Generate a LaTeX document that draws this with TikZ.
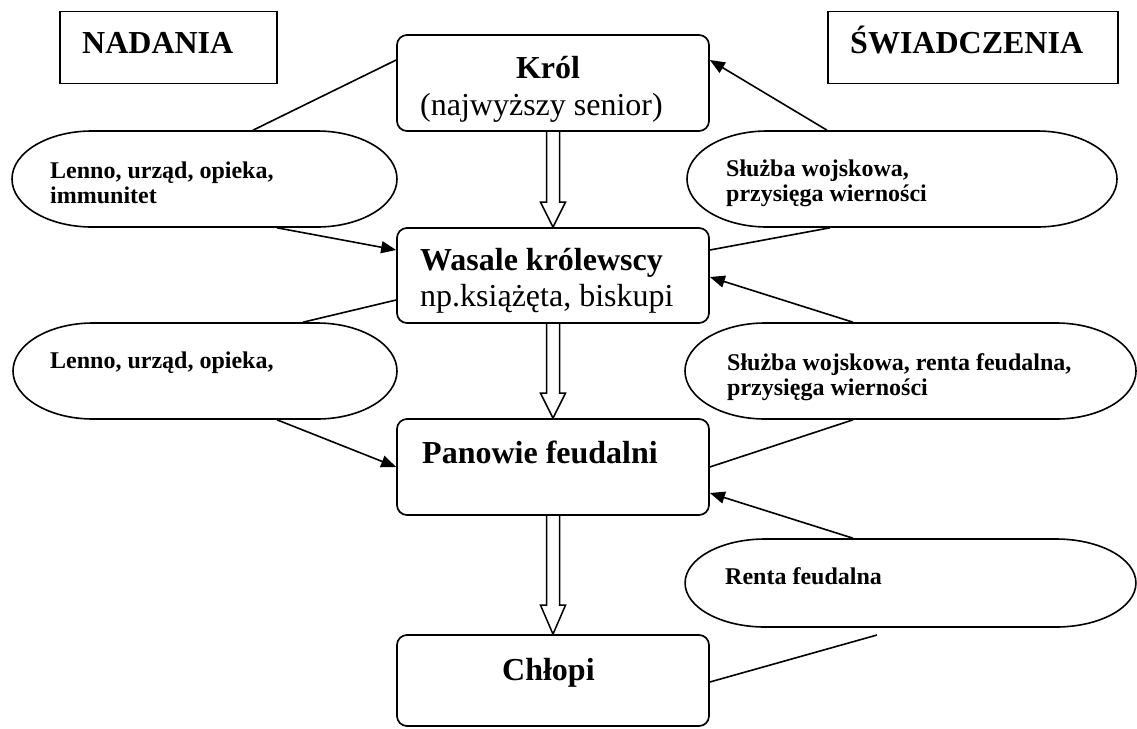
\documentclass[tikz,border=0pt]{standalone}
\usepackage{fontspec}
\setmainfont{Liberation Serif}
\usetikzlibrary{arrows.meta,shapes.misc}
\tikzset{
  rbox/.style={draw, line width=1.7pt, rounded corners=10pt, minimum width=312pt, inner sep=0pt},
  hbox/.style={draw, line width=1.6pt, inner sep=0pt},
  oval/.style={draw, line width=1.6pt, rounded rectangle, inner sep=0pt},
  conn/.style={line width=1.6pt},
  arr/.style={conn, -{Triangle[length=15pt,width=12pt]}},
  fat/.style={line width=1.5pt, line join=miter},
  big/.style={font=\fontsize{32}{38}\selectfont, inner sep=0pt, anchor=base west},
  bigb/.style={font=\fontsize{32}{38}\selectfont\bfseries, inner sep=0pt, anchor=base west},
  small/.style={font=\fontsize{24}{25}\selectfont\bfseries, inner sep=0pt, anchor=base west},
}
\newcommand\hollowarrow[3]{%
  \draw[fat] ([xshift=-6.5pt]#1.south) -- ([xshift=-6.5pt,yshift=#3]#2.north)
    -- ([xshift=-12.5pt,yshift=#3]#2.north) -- (#2.north)
    -- ([xshift=12.5pt,yshift=#3]#2.north) -- ([xshift=6.5pt,yshift=#3]#2.north)
    -- ([xshift=6.5pt]#1.south);}
\begin{document}
\begin{tikzpicture}[x=1pt,y=-1pt]
\useasboundingbox (0,0) rectangle (1137,728);
% header boxes
\node[hbox, minimum width=217pt, minimum height=72pt] (nadbox) at (168.5,47.5) {};
\node[bigb] (nadtxt) at (82,53) {NADANIA};
\node[hbox, minimum width=290pt, minimum height=72pt] (swbox) at (973,47.5) {};
\node[bigb] (swtxt) at (850,53) {ŚWIADCZENIA};
% main boxes
\node[rbox, minimum height=96pt] (krol) at (553,83) {};
\node[bigb, anchor=base] (krolt) at (548,78) {Król};
\node[big] (krols) at (420,115) {(najwyższy senior)};
\node[rbox, minimum height=95pt] (wasale) at (553,275.5) {};
\node[bigb] (wasalet) at (420,270) {Wasale królewscy};
\node[big] (wasales) at (420,306) {np.książęta, biskupi};
\node[rbox, minimum height=96pt] (panowie) at (553,467) {};
\node[bigb] (panowiet) at (422,463) {Panowie feudalni};
\node[rbox, minimum height=91pt] (chlopi) at (553,680.5) {};
\node[bigb] (chlopit) at (502,680) {Chłopi};
% ovals
\node[oval, minimum width=231pt, minimum height=96pt, xscale=1.6667] (e1l) at (204.5,179) {};
\node[small] (e1la) at (50,178) {Lenno, urząd, opieka,};
\node[small] (e1lb) at (50,203) {immunitet};
\node[oval, minimum width=258pt, minimum height=96pt, xscale=1.6667] (e1r) at (902,179) {};
\node[small] (e1ra) at (726,176) {Służba wojskowa,};
\node[small] (e1rb) at (726,201) {przysięga wierności};
\node[oval, minimum width=230.4pt, minimum height=96pt, xscale=1.6667] (e2l) at (205,371) {};
\node[small] (e2la) at (50,368) {Lenno, urząd, opieka,};
\node[oval, minimum width=270.6pt, minimum height=96pt, xscale=1.6667] (e2r) at (910.5,371) {};
\node[small] (e2ra) at (727,370) {Służba wojskowa, renta feudalna,};
\node[small] (e2rb) at (727,395) {przysięga wierności};
\node[oval, minimum width=248pt, minimum height=88pt, xscale=1.818] (e3r) at (910.5,583) {};
\node[small] (e3ra) at (725,584) {Renta feudalna};
\coordinate (free) at (877,635);
% hollow arrows
\hollowarrow{krol}{wasale}{25pt}
\hollowarrow{wasale}{panowie}{25pt}
\hollowarrow{panowie}{chlopi}{29pt}
% connectors
\draw[conn] ([yshift=23pt]krol.west) -- ([xshift=48.5pt]e1l.north);
\draw[arr] ([xshift=72.5pt]e1l.south) -- ([yshift=25.5pt]wasale.west);
\draw[arr] ([xshift=-75pt]e1r.north) -- ([yshift=23pt]krol.east);
\draw[conn] ([yshift=25.5pt]wasale.east) -- ([xshift=-72pt]e1r.south);
\draw[conn] ([yshift=-24.5pt]wasale.west) -- ([xshift=98pt]e2l.north);
\draw[arr] ([xshift=72pt]e2l.south) -- (panowie.west);
\draw[arr] ([xshift=-57.5pt]e2r.north) -- ([yshift=-1.5pt]wasale.east);
\draw[conn] (panowie.east) -- ([xshift=-57.5pt]e2r.south);
\draw[arr] ([xshift=-57.5pt]e3r.north) -- ([yshift=-26pt]panowie.east);
\draw[conn] ([yshift=-1.5pt]chlopi.east) -- (free);
\end{tikzpicture}
\end{document}
